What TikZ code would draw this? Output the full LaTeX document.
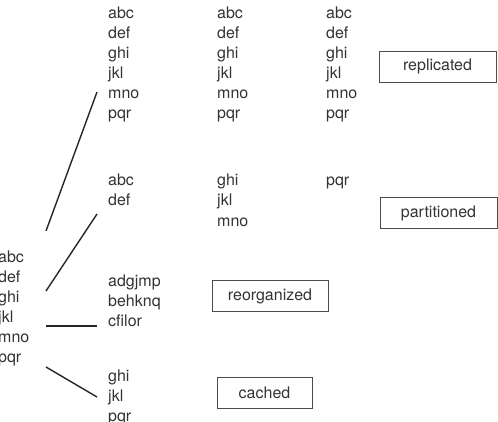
\documentclass[tikz,border=0pt]{standalone}
\usepackage{fontspec}
\setmainfont{TeX Gyre Heros}
\usetikzlibrary{positioning}

\begin{document}
\begin{tikzpicture}[x=1pt,y=-1pt,
  word/.style={anchor=base west,inner sep=0pt,text=black!80,font=\fontsize{16}{20}\selectfont},
  tag/.style={draw=black!70,line width=0.9pt,minimum height=31pt,inner sep=0pt,text=black!80,font=\fontsize{16}{20}\selectfont},
  link/.style={line width=1.4pt,black!85}]
\useasboundingbox (0,0) rectangle (498,422);
% source table
\foreach \w [count=\i] in {abc,def,ghi,jkl,mno,pqr}
  \node[word] (src-\i) at (-2,{262+20*(\i-1)}) {\w};
% replicated copies
\foreach \x [count=\c] in {108,217,326}
  \foreach \w [count=\i] in {abc,def,ghi,jkl,mno,pqr}
    \node[word] (rep\c-\i) at (\x,{19+20*(\i-1)}) {\w};
\node[tag,minimum width=117pt] (replicated) at (437.5,66.5) {replicated};
% partitions
\foreach \w [count=\i] in {abc,def}
  \node[word] (partA-\i) at (108,{186+20*(\i-1)}) {\w};
\foreach \w [count=\i] in {ghi,jkl,mno}
  \node[word] (partB-\i) at (217,{186+20*(\i-1)}) {\w};
\node[word] (partC-1) at (326,186) {pqr};
\node[tag,minimum width=117pt] (partitioned) at (438.5,213) {partitioned};
% reorganized
\foreach \w [count=\i] in {adgjmp,behknq,cfilor}
  \node[word] (reorg-\i) at (108,{286+20*(\i-1)}) {\w};
\node[tag,minimum width=116pt] (reorganized) at (270,296) {reorganized};
% cached
\foreach \w [count=\i] in {ghi,jkl,pqr}
  \node[word] (cache-\i) at (108,{381+20*(\i-1)}) {\w};
\node[tag,minimum width=95pt] (cached) at (264.5,392.5) {cached};
% links
\coordinate (fromRep) at (46,231);   \coordinate (toRep) at (97,92);
\coordinate (fromPart) at (46,291);  \coordinate (toPart) at (97,214);
\coordinate (fromReorg) at (46,326); \coordinate (toReorg) at (97,326);
\coordinate (fromCache) at (46,367); \coordinate (toCache) at (97,397);
\draw[link] (fromRep) -- (toRep);
\draw[link] (fromPart) -- (toPart);
\draw[link] (fromReorg) -- (toReorg);
\draw[link] (fromCache) -- (toCache);
\end{tikzpicture}
\end{document}
